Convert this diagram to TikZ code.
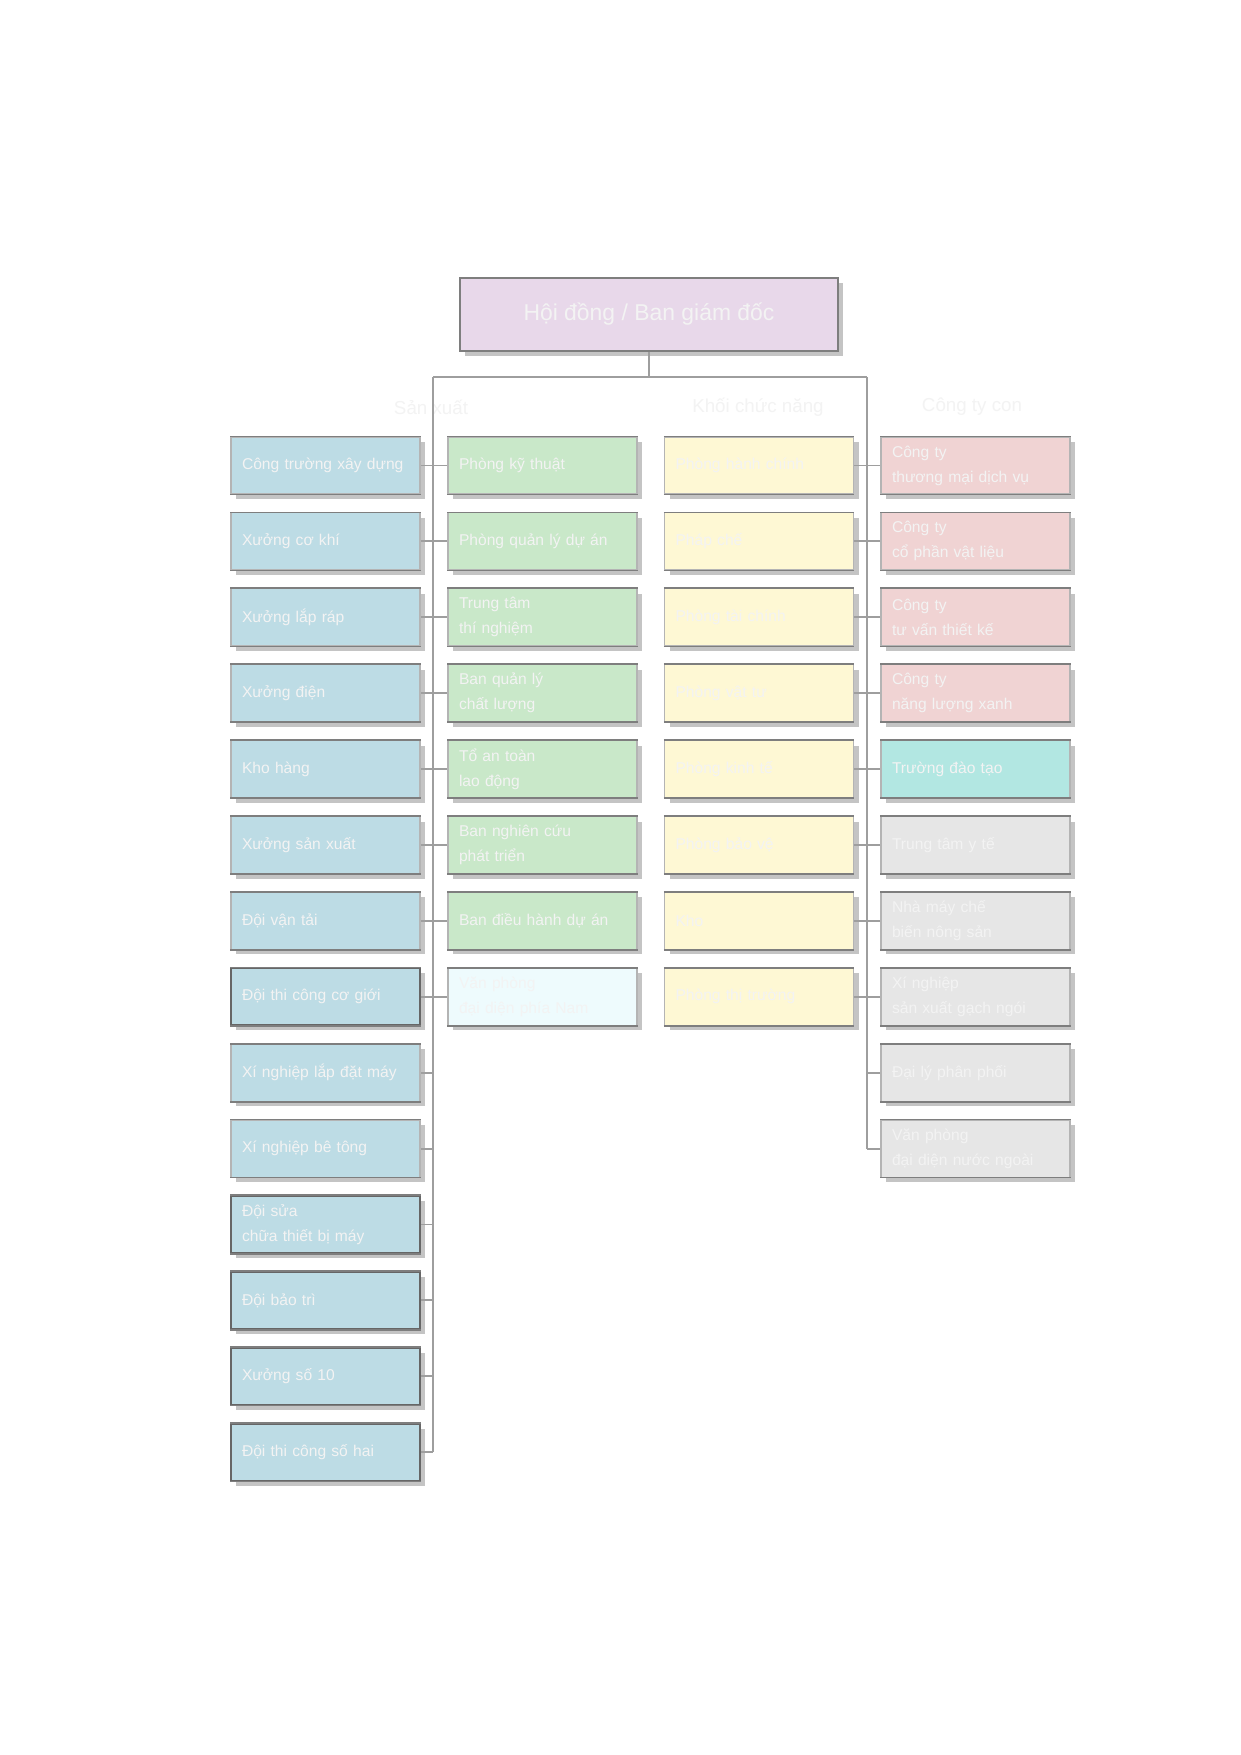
\documentclass[tikz,border=0pt]{standalone}
\usepackage{fontspec}
\setmainfont{Liberation Sans}
\usetikzlibrary{shadows}
\definecolor{cblue}{HTML}{BDDCE5}
\definecolor{cgreen}{HTML}{C9E8C9}
\definecolor{cyellow}{HTML}{FEF8D4}
\definecolor{cpink}{HTML}{F0D3D3}
\definecolor{cteal}{HTML}{B2E7E2}
\definecolor{cgray}{HTML}{E6E6E6}
\definecolor{ccyan}{HTML}{EEFBFD}
\definecolor{clav}{HTML}{E8D8EA}
\definecolor{cborder}{HTML}{7E7E7E}
\definecolor{cside}{HTML}{B4B4B4}
\definecolor{cdark}{HTML}{666666}
\definecolor{cshadow}{HTML}{C4C4C4}
\definecolor{cline}{HTML}{9E9E9E}
\definecolor{ctext}{HTML}{F3F3F3}
\tikzset{
  edgeline/.style={draw=cborder, line width=0.8pt},
  box/.style={draw=cside, line width=0.5pt, minimum width=90.72pt, minimum height=27.36pt,
    text width=80.16pt, inner xsep=5.28pt, inner ysep=0pt, align=left,
    font=\fontsize{7.5}{12}\selectfont, text=ctext,
    drop shadow={shadow xshift=2.4pt, shadow yshift=-2.4pt, fill=cshadow, opacity=1},
    append after command={(\tikzlastnode.north west) edge[edgeline] (\tikzlastnode.north east)
      (\tikzlastnode.south west) edge[edgeline] (\tikzlastnode.south east)}},
  darkbox/.style={box, draw=cdark, line width=0.8pt},
  topbox/.style={draw=cborder, line width=0.6pt, fill=clav, minimum width=181.4pt, minimum height=35pt,
    font=\fontsize{11}{13}\selectfont, text=ctext,
    drop shadow={shadow xshift=2.4pt, shadow yshift=-2.4pt, fill=cshadow, opacity=1}},
  hdr/.style={font=\fontsize{9}{11}\selectfont, text=ctext, inner sep=1pt},
  conn/.style={draw=cline, line width=0.9pt}
}
\begin{document}
\begin{tikzpicture}[x=0.48pt,y=-0.48pt]
\useasboundingbox (0,0) rectangle (1241,1755);
\fill[white] (0,0) rectangle (1241,1755);

% top
\node[topbox] (top) at (649,314.5) {Hội đồng / Ban giám đốc};
\coordinate (tl) at (433,377);
\coordinate (tr) at (867,377);
\coordinate (tm) at (649,377);

% headers
\node[hdr] (h1) at (431,407) {Sản xuất};
\node[hdr] (h2) at (758,407) {Khối chức năng};
\node[hdr] (h3) at (972,407) {Công ty con};

% blue column
\node[box, fill=cblue] (b1) at (325.5,465.5) {Công trường xây dựng};
\node[box, fill=cblue] (b2) at (325.5,541.4) {Xưởng cơ khí};
\node[box, fill=cblue] (b3) at (325.5,617.3) {Xưởng lắp ráp};
\node[box, fill=cblue] (b4) at (325.5,693.2) {Xưởng điện};
\node[box, fill=cblue] (b5) at (325.5,769.1) {Kho hàng};
\node[box, fill=cblue] (b6) at (325.5,845.0) {Xưởng sản xuất};
\node[box, fill=cblue] (b7) at (325.5,920.9) {Đội vận tải};
\node[darkbox, fill=cblue] (b8) at (325.5,996.8) {Đội thi công cơ giới};
\node[box, fill=cblue] (b9) at (325.5,1072.7) {Xí nghiệp lắp đặt máy};
\node[box, fill=cblue] (b10) at (325.5,1148.6) {Xí nghiệp bê tông};
\node[darkbox, fill=cblue] (b11) at (325.5,1224.5) {Đội sửa\\chữa thiết bị máy};
\node[darkbox, fill=cblue] (b12) at (325.5,1300.4) {Đội bảo trì};
\node[darkbox, fill=cblue] (b13) at (325.5,1376.3) {Xưởng số 10};
\node[darkbox, fill=cblue] (b14) at (325.5,1452.2) {Đội thi công số hai};

% green column
\node[box, fill=cgreen] (g1) at (542.5,465.5) {Phòng kỹ thuật};
\node[box, fill=cgreen] (g2) at (542.5,541.4) {Phòng quản lý dự án};
\node[box, fill=cgreen] (g3) at (542.5,617.3) {Trung tâm\\thí nghiệm};
\node[box, fill=cgreen] (g4) at (542.5,693.2) {Ban quản lý\\chất lượng};
\node[box, fill=cgreen] (g5) at (542.5,769.1) {Tổ an toàn\\lao động};
\node[box, fill=cgreen] (g6) at (542.5,845.0) {Ban nghiên cứu\\phát triển};
\node[box, fill=cgreen] (g7) at (542.5,920.9) {Ban điều hành dự án};
\node[box, fill=ccyan] (g8) at (542.5,996.8) {Văn phòng\\đại diện phía Nam};

% yellow column
\node[box, fill=cyellow] (y1) at (759,465.5) {Phòng hành chính};
\node[box, fill=cyellow] (y2) at (759,541.4) {Pháp chế};
\node[box, fill=cyellow] (y3) at (759,617.3) {Phòng tài chính};
\node[box, fill=cyellow] (y4) at (759,693.2) {Phòng vật tư};
\node[box, fill=cyellow] (y5) at (759,769.1) {Phòng kinh tế};
\node[box, fill=cyellow] (y6) at (759,845.0) {Phòng bảo vệ};
\node[box, fill=cyellow] (y7) at (759,920.9) {Kho};
\node[box, fill=cyellow] (y8) at (759,996.8) {Phòng thị trường};

% right column
\node[box, fill=cpink] (p1) at (975.5,465.5) {Công ty\\thương mại dịch vụ};
\node[box, fill=cpink] (p2) at (975.5,541.4) {Công ty\\cổ phần vật liệu};
\node[box, fill=cpink] (p3) at (975.5,617.3) {Công ty\\tư vấn thiết kế};
\node[box, fill=cpink] (p4) at (975.5,693.2) {Công ty\\năng lượng xanh};
\node[box, fill=cteal] (p5) at (975.5,769.1) {Trường đào tạo};
\node[box, fill=cgray] (p6) at (975.5,845.0) {Trung tâm y tế};
\node[box, fill=cgray] (p7) at (975.5,920.9) {Nhà máy chế\\biến nông sản};
\node[box, fill=cgray] (p8) at (975.5,996.8) {Xí nghiệp\\sản xuất gạch ngói};
\node[box, fill=cgray] (p9) at (975.5,1072.7) {Đại lý phân phối};
\node[box, fill=cgray] (p10) at (975.5,1148.6) {Văn phòng\\đại diện nước ngoài};

% connectors
\draw[conn] (top.south) -- (tm);
\draw[conn] (tl) -- (tr);
\draw[conn] (tl) -- (tl |- b14.east);
\draw[conn] (tr) -- (tr |- p10.west);
\foreach \n in {b1,b2,b3,b4,b5,b6,b7,b8,b9,b10,b11,b12,b13,b14}{
  \draw[conn] (\n.east) -- (\n.east -| tl);
}
\foreach \n in {g1,g2,g3,g4,g5,g6,g7,g8}{
  \draw[conn] (\n.west) -- (\n.west -| tl);
}
\foreach \n in {y1,y2,y3,y4,y5,y6,y7,y8}{
  \draw[conn] (\n.east) -- (\n.east -| tr);
}
\foreach \n in {p1,p2,p3,p4,p5,p6,p7,p8,p9,p10}{
  \draw[conn] (\n.west) -- (\n.west -| tr);
}
\end{tikzpicture}
\end{document}
